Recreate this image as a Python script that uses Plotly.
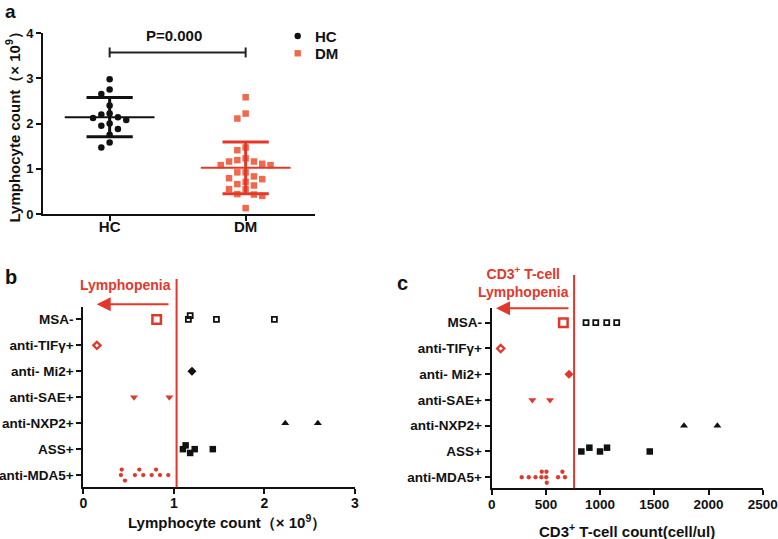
import numpy as np
import plotly.graph_objects as go

W, H = 778, 539
FONT = "Liberation Sans, Arial, Helvetica, sans-serif"
RED = "#e2382b"
DM_COLOR = "#f0694c"
BLACK = "#111111"

# ---------------- Panel a data ----------------
groups_a = ["HC", "DM"]
hc_values = [2.98, 2.75, 2.65, 2.40, 2.22, 2.20, 2.14, 2.12, 2.08, 2.00,
             1.95, 1.88, 1.75, 1.58, 1.47]
dm_values = [2.58, 2.22, 2.11, 1.47, 1.41, 1.23, 1.16, 1.11, 1.08, 1.08,
             1.16, 1.19, 0.92, 0.92, 0.77, 0.79, 0.83, 0.71, 0.63, 0.66,
             0.55, 0.55, 0.40, 0.43, 0.44, 0.13]
hc_mean, hc_sd = 2.14, 0.435
dm_mean, dm_sd = 1.02, 0.57
p_text = "P=0.000"

# ---------------- Panel b / c data ----------------
categories = ["MSA-", "anti-TIFγ+", "anti- Mi2+", "anti-SAE+",
              "anti-NXP2+", "ASS+", "anti-MDA5+"]

b_threshold = 1.03
b_msa = [0.81, 1.16, 1.18, 1.47, 2.11]
b_tif = [0.15]
b_mi2 = [1.20]
b_sae = [0.56, 0.95]
b_nxp2 = [2.23, 2.59]
b_ass = [1.10, 1.13, 1.18, 1.23, 1.43]
b_mda5 = [0.415, 0.424, 0.46, 0.57, 0.618, 0.662, 0.755, 0.803, 0.847, 0.938]

c_threshold = 760
c_msa = [661, 870, 960, 1061, 1153]
c_tif = [83]
c_mi2 = [713]
c_sae = [375, 538]
c_nxp2 = [1774, 2082]
c_ass = [827, 901, 999, 1064, 1458]
c_mda5 = [277, 342, 404, 458, 462, 503, 505, 508, 612, 652, 676]

b_series = [b_msa, b_tif, b_mi2, b_sae, b_nxp2, b_ass, b_mda5]
c_series = [c_msa, c_tif, c_mi2, c_sae, c_nxp2, c_ass, c_mda5]

# ---------------- layout geometry (pixels) ----------------
A_X = (43, 315); A_Y = (33, 214); A_XR = [-0.49, 1.51]; A_YR = [0, 4]
B_X = (83.3, 355); B_Y = (306.7, 487.3); B_XR = [0, 3]; B_YR = [6.47, -0.49]
C_X = (491.7, 762.7); C_Y = (308.3, 488.3); C_XR = [0, 2500]; C_YR = [6.43, -0.56]


def dom_x(px):
    return [px[0] / W, px[1] / W]


def dom_y(py):
    return [1 - py[1] / H, 1 - py[0] / H]


def swarm(values, min_px, px_per_unit, descending=False, nmax=8):
    vals = np.asarray(values, float)
    order = np.argsort(-vals if descending else vals, kind="stable")
    cand = [0]
    for k in range(1, nmax):
        cand += [-k, k]
    slots = np.zeros(len(vals))
    placed = []
    for i in order:
        for s in cand:
            ok = all(abs(vals[i] - vals[j]) * px_per_unit >= min_px
                     for j, sj in placed if sj == s)
            if ok:
                slots[i] = s
                placed.append((i, s))
                break
    return slots


fig = go.Figure()

# ---------------- Panel a ----------------
a_ppu_y = (A_Y[1] - A_Y[0]) / (A_YR[1] - A_YR[0])
a_ppu_x = (A_X[1] - A_X[0]) / (A_XR[1] - A_XR[0])
a_step = 8.3 / a_ppu_x

for gi, (name, vals, color, sym) in enumerate([
        ("HC", hc_values, BLACK, "circle"),
        ("DM", dm_values, DM_COLOR, "square")]):
    slots = swarm(vals, 7.0, a_ppu_y, descending=True)
    fig.add_trace(go.Scatter(
        x=gi + slots * a_step, y=vals, mode="markers", name=name,
        marker=dict(symbol=sym, size=6.5, color=color, opacity=1, line=dict(width=0)),
        xaxis="x", yaxis="y", showlegend=False, cliponaxis=False))

for gi, (m, sd, color) in enumerate([(hc_mean, hc_sd, BLACK),
                                     (dm_mean, dm_sd, RED)]):
    fig.add_trace(go.Scatter(x=[gi - 0.33, gi + 0.33], y=[m, m], mode="lines",
                             line=dict(color=color, width=2), xaxis="x", yaxis="y",
                             showlegend=False, hoverinfo="skip"))
    fig.add_trace(go.Scatter(
        x=[gi, gi, None, gi - 0.17, gi + 0.17, None, gi - 0.17, gi + 0.17],
        y=[m - sd, m + sd, None, m + sd, m + sd, None, m - sd, m - sd],
        mode="lines", line=dict(color=color, width=3), xaxis="x", yaxis="y",
        showlegend=False, hoverinfo="skip"))

# ---------------- Panels b / c ----------------
styles = [
    dict(symbol="square-open", size=5, red_size=8.5, lw=1.8, red_lw=2.5, kind="sq"),
    dict(symbol="diamond-open", size=5.5, red_size=5.5, lw=2.3, red_lw=2.3, kind="sq"),
    dict(symbol="diamond", size=7, red_size=7, lw=0, red_lw=0, kind="sq"),
    dict(symbol="triangle-down", size=7, red_size=7, lw=0, red_lw=0, kind="sq"),
    dict(symbol="triangle-up", size=7, red_size=7, lw=0, red_lw=0, kind="sq"),
    dict(symbol="square", size=6.5, red_size=6.5, lw=0, red_lw=0, kind="sq"),
    dict(symbol="circle", size=4.3, red_size=4.3, lw=0, red_lw=0, kind="dot"),
]


def add_panel(series, threshold, xa, ya, XPX, XR, YPX, YR):
    ppu_x = (XPX[1] - XPX[0]) / (XR[1] - XR[0])
    ppu_y = (YPX[1] - YPX[0]) / abs(YR[0] - YR[1])
    for ci, (vals, st) in enumerate(zip(series, styles)):
        vals = np.asarray(vals, float)
        below = vals < threshold
        if st["kind"] == "dot":
            min_px, step_px = 4.6, 5.5
        else:
            min_px, step_px = 8.5, 3.8
        slots = np.zeros(len(vals))
        if (~below).any():
            slots[~below] = swarm(vals[~below], min_px, ppu_x)
        if below.any():
            slots[below] = swarm(vals[below], min_px, ppu_x)
        colors = [RED if b else BLACK for b in below]
        sizes = [st["red_size"] if b else st["size"] for b in below]
        lws = [st["red_lw"] if b else st["lw"] for b in below]
        fig.add_trace(go.Scatter(
            x=vals, y=ci + slots * step_px / ppu_y, mode="markers",
            marker=dict(symbol=st["symbol"], size=sizes, color=colors, opacity=1,
                        line=dict(color=colors, width=lws)),
            xaxis=xa, yaxis=ya, showlegend=False, cliponaxis=False))


add_panel(b_series, b_threshold, "x2", "y2", B_X, B_XR, B_Y, B_YR)
add_panel(c_series, c_threshold, "x3", "y3", C_X, C_XR, C_Y, C_YR)

# ---------------- axes ----------------
tick_bold = dict(family=FONT, size=14, color=BLACK, weight="bold")
tick_bold_c = dict(family=FONT, size=13.5, color=BLACK, weight="bold")
cat_bold = dict(family=FONT, size=13.5, color=BLACK, weight="bold")
common = dict(showline=True, linecolor=BLACK, linewidth=2, ticks="outside",
              tickwidth=2, tickcolor=BLACK, showgrid=False, zeroline=False,
              fixedrange=True, automargin=False, ticklabeloverflow="allow")

fig.update_layout(
    xaxis=dict(domain=dom_x(A_X), range=A_XR, tickvals=[0, 1], ticktext=groups_a,
               ticklen=5, anchor="y", ticklabelstandoff=-7,
               tickfont=dict(family=FONT, size=15, color=BLACK, weight="bold"),
               **common),
    yaxis=dict(domain=dom_y(A_Y), range=A_YR, dtick=1, ticklen=5, anchor="x",
               tickfont=dict(family=FONT, size=13, color=BLACK, weight="bold"),
               **common),
    xaxis2=dict(domain=dom_x(B_X), range=B_XR, dtick=1, ticklen=5, anchor="y2",
                ticklabelstandoff=-3, tickfont=tick_bold, **common),
    yaxis2=dict(domain=dom_y(B_Y), range=B_YR, tickvals=list(range(7)),
                ticktext=categories, ticklen=5, anchor="x2", tickfont=cat_bold,
                **common),
    xaxis3=dict(domain=dom_x(C_X), range=C_XR, dtick=500, ticklen=5, anchor="y3",
                ticklabelstandoff=-3, tickfont=tick_bold_c, **common),
    yaxis3=dict(domain=dom_y(C_Y), range=C_YR, tickvals=list(range(7)),
                ticktext=categories, ticklen=5, anchor="x3", tickfont=cat_bold,
                **common),
)

# ---------------- shapes ----------------
bracket_y, bracket_tick = 3.57, 0.11
shapes = [
    dict(type="line", xref="x", yref="y", x0=0, x1=1, y0=bracket_y, y1=bracket_y,
         line=dict(color="#222", width=2)),
    dict(type="line", xref="x", yref="y", x0=0, x1=0, y0=bracket_y - bracket_tick,
         y1=bracket_y + bracket_tick, line=dict(color="#222", width=2)),
    dict(type="line", xref="x", yref="y", x0=1, x1=1, y0=bracket_y - bracket_tick,
         y1=bracket_y + bracket_tick, line=dict(color="#222", width=2)),
    dict(type="line", xref="x2", yref="paper", x0=b_threshold, x1=b_threshold,
         y0=1 - B_Y[1] / H, y1=1 - 279 / H, line=dict(color=RED, width=2)),
    dict(type="line", xref="x3", yref="paper", x0=c_threshold, x1=c_threshold,
         y0=1 - C_Y[1] / H, y1=1 - 275 / H, line=dict(color=RED, width=2)),
    # legend swatches (panel a)
    dict(type="circle", xref="paper", yref="paper", xsizemode="pixel",
         ysizemode="pixel", xanchor=297.7 / W, yanchor=1 - 36 / H,
         x0=-3.2, x1=3.2, y0=-3.2, y1=3.2, fillcolor=BLACK, line=dict(width=0)),
    dict(type="rect", xref="paper", yref="paper", xsizemode="pixel",
         ysizemode="pixel", xanchor=297.7 / W, yanchor=1 - 53.3 / H,
         x0=-3.2, x1=3.2, y0=-3.2, y1=3.2, fillcolor=DM_COLOR, line=dict(width=0)),
]
fig.update_layout(shapes=shapes)


# ---------------- annotations ----------------
def txt(text, x, y, size=14, color=BLACK, xanchor="center", **kw):
    return dict(text=text, x=x / W, y=1 - y / H, xref="paper", yref="paper",
                showarrow=False, xanchor=xanchor, yanchor="middle",
                font=dict(family=FONT, size=size, color=color, weight="bold"), **kw)


annotations = [
    txt("a", 10, 11, size=19),
    txt("b", 11, 277, size=20),
    txt("c", 402, 283, size=20),
    txt("HC", 313, 36, size=15, xanchor="left"),
    txt("DM", 313, 53.3, size=15, xanchor="left"),
    dict(text=p_text, x=0.47, xref="x", y=1 - 35 / H, yref="paper", showarrow=False,
         xanchor="center", yanchor="middle",
         font=dict(family=FONT, size=15, color=BLACK, weight="bold")),
    txt("Lymphocyte count（× 10<sup>9</sup>）", 13, 123.5, size=15, textangle=-90),
    txt("Lymphocyte count（× 10<sup>9</sup>）", 227.5, 521.7, size=15),
    txt("CD3<sup>+</sup> T-cell count(cell/ul)", 626.7, 530, size=15),
    txt("Lymphopenia", 125, 285, size=14, color=RED),
    txt("CD3<sup>+</sup> T-cell<br>Lymphopenia", 523, 282.3, size=14, color=RED),
    dict(text="", x=0.148, xref="x2", y=1 - 304.3 / H, yref="paper",
         ax=0.957, axref="x2", ay=0, ayref="pixel", showarrow=True,
         arrowhead=2, arrowsize=1.4, arrowwidth=2, arrowcolor=RED, standoff=0),
    dict(text="", x=40, xref="x3", y=1 - 308.3 / H, yref="paper",
         ax=722, axref="x3", ay=0, ayref="pixel", showarrow=True,
         arrowhead=2, arrowsize=1.4, arrowwidth=2, arrowcolor=RED, standoff=0),
]
fig.update_layout(annotations=annotations)

fig.update_layout(
    width=W, height=H, margin=dict(l=0, r=0, t=0, b=0, autoexpand=False),
    paper_bgcolor="white", plot_bgcolor="white",
    font=dict(family=FONT, color=BLACK),
    showlegend=False,
)

fig.write_html(
    "out.html",
    config={"displayModeBar": False},
    post_script="document.body.style.margin='0';document.body.style.overflow='hidden';",
)
